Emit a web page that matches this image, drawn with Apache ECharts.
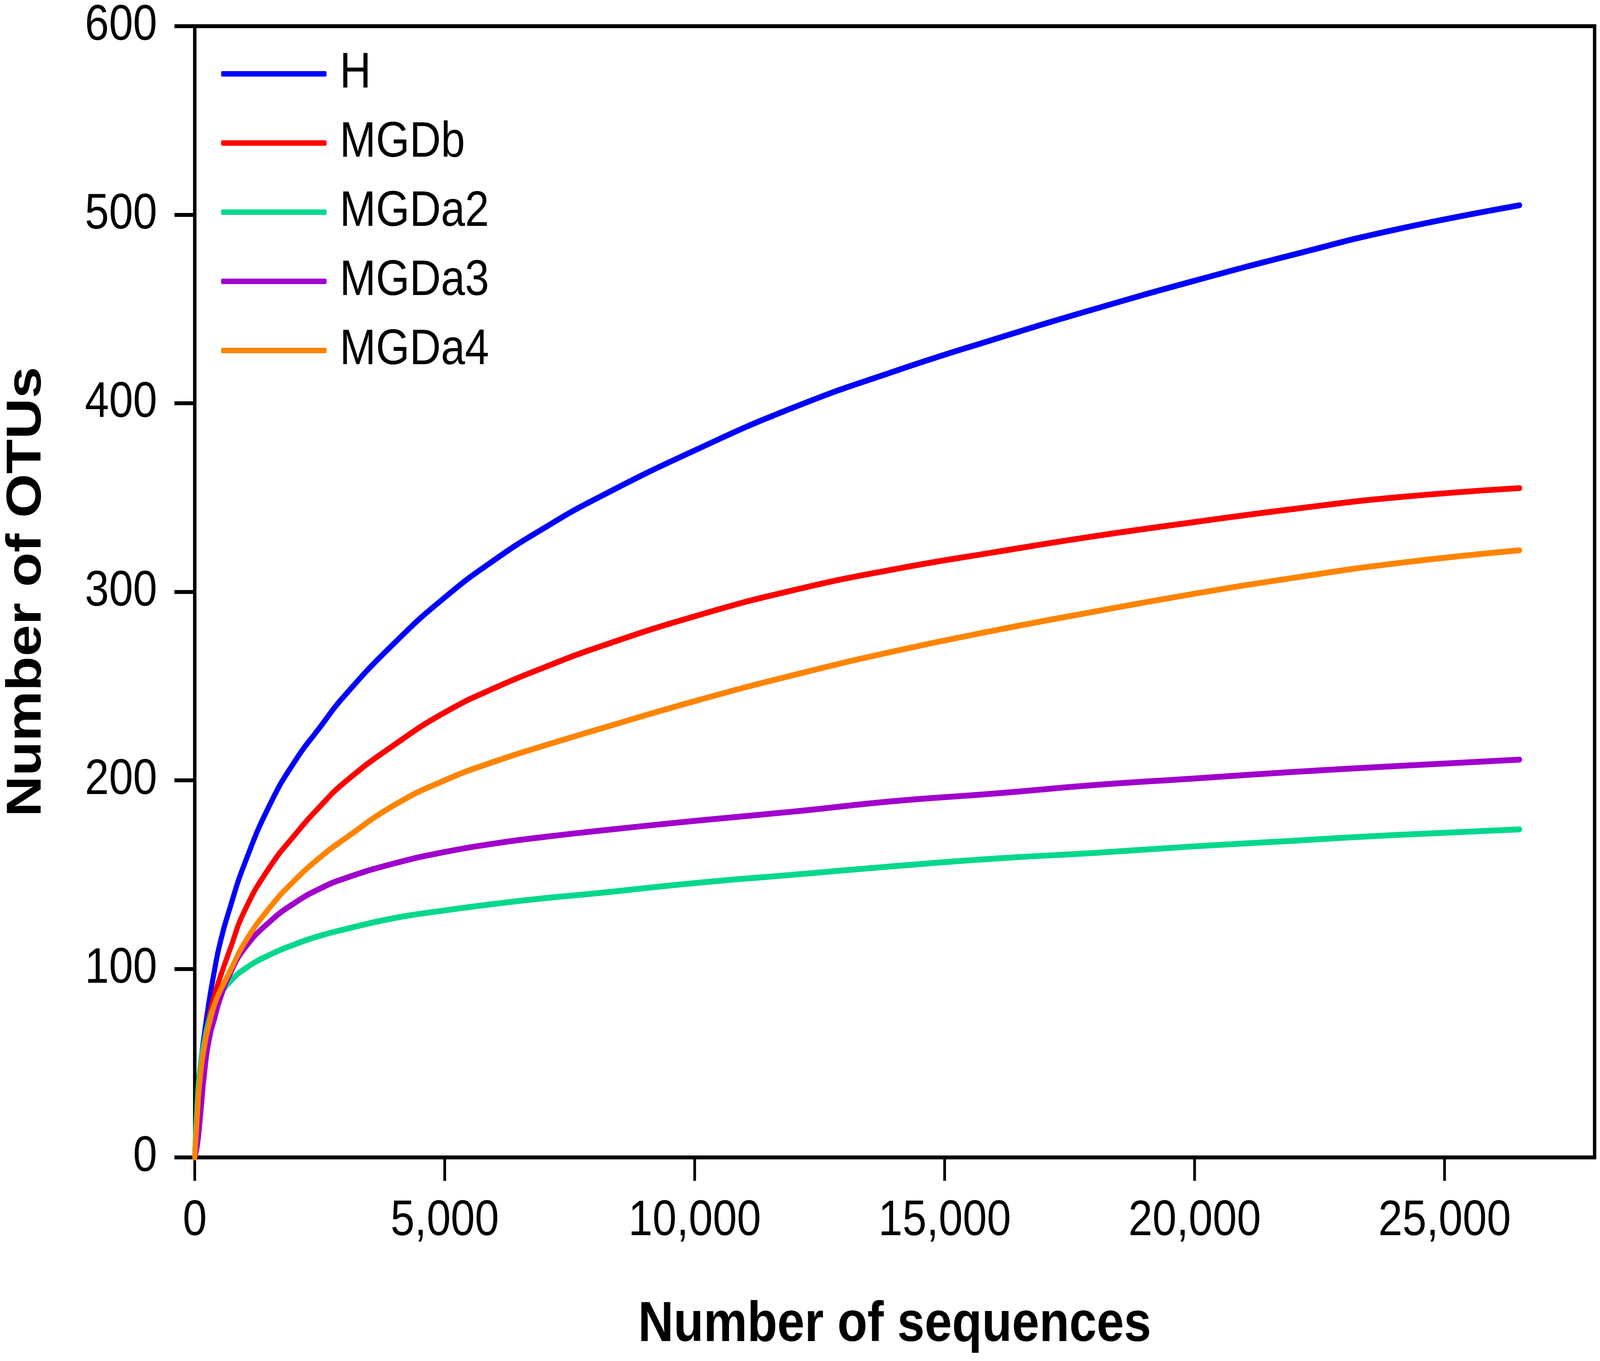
<!DOCTYPE html>
<html lang="en">
<head>
    <meta charset="UTF-8">
    <title>Rarefaction curves</title>
    <script src="https://cdn.jsdelivr.net/npm/echarts@6/dist/echarts.min.js"></script>
    <style>
        html, body { margin: 0; padding: 0; background: #fff; overflow: hidden; }
        #chart { width: 4724px; height: 3483px; transform-origin: 0 0; }
    </style>
</head>
<body>
    <div id="chart"></div>
    <script>
        // sampled number of sequences
        var seqX = [0, 50, 100, 200, 300, 400, 500, 700, 1000, 1500, 2000, 2500, 3000, 4000, 5000,
                    6000, 7000, 8000, 10000, 12000, 14000, 16000, 18000, 20000, 22000, 24000, 26500];

        // OTUs per sample
        var otuH     = [0, 27, 45, 67, 85, 100, 113, 132, 156, 187, 210, 228, 245, 273, 297,
                        317, 334, 349, 375, 398, 417, 434, 450, 465, 479, 492, 505];
        var otuMGDb  = [0, 25, 42, 62, 76, 86.5, 95, 110, 131, 154, 171, 186, 199, 219, 236,
                        249, 260, 270, 287, 301, 312, 321, 329.5, 337, 344, 350, 355];
        var otuMGDa2 = [0, 30, 46, 63, 74, 81, 86, 93, 100, 107.5, 113, 117.5, 121, 127, 131,
                        134.5, 137.5, 140, 145.5, 150, 154.5, 158.5, 161.5, 165, 168, 171, 174];
        var otuMGDa3 = [0, 6, 18, 46, 64, 74, 83.5, 97, 111, 125, 135, 142.5, 148, 156, 162,
                        166.5, 170, 173, 178.5, 183.5, 189, 193, 197.5, 201, 204.5, 207.5, 211];
        var otuMGDa4 = [0, 22, 40, 60, 72, 81.5, 88, 98.5, 114, 132.5, 147, 159, 169, 187, 200,
                        210, 218.5, 226.5, 242, 256, 268.5, 279.5, 289.5, 299, 307.5, 315, 322];

        var names  = ['H', 'MGDb', 'MGDa2', 'MGDa3', 'MGDa4'];
        var colors = ['#0000ff', '#ff0000', '#00d88c', '#a000cc', '#ff8400'];
        var xTicks = [0, 5000, 10000, 15000, 20000, 25000];

        var font = "'Liberation Sans', Arial, sans-serif";

        // the window may be narrower than the figure: squeeze it to fit
        var box = document.getElementById('chart');
        if (window.innerWidth && window.innerWidth < 4724) {
            box.style.transform = 'scale(' + (window.innerWidth / 4724) + ', 1)';
        }

        function pairs(ys) {
            return seqX.map(function (x, i) { return [x, ys[i]]; });
        }

        var allY = [otuH, otuMGDb, otuMGDa2, otuMGDa3, otuMGDa4];
        var series = names.map(function (n, i) {
            return {
                name: n,
                type: 'line',
                data: pairs(allY[i]),
                showSymbol: false,
                symbol: 'none',
                smooth: 0.5,
                color: colors[i],
                lineStyle: { width: 15, color: colors[i], cap: 'round', join: 'round' }
            };
        });

        var chart = echarts.init(box);
        chart.setOption({
            animation: false,
            backgroundColor: '#fff',
            textStyle: { fontFamily: font, color: '#000' },
            grid: {
                left: 555, right: 16, top: 67, bottom: 521,
                show: true, borderColor: '#000', borderWidth: 10
            },
            legend: {
                data: names,
                orient: 'vertical',
                left: 653,
                top: 125,
                padding: 0,
                icon: 'roundRect',
                itemWidth: 311,
                itemHeight: 14,
                itemGap: 49,
                textStyle: { fontSize: 128, color: '#000', fontFamily: font, padding: [0, 0, 0, 34] }
            },
            xAxis: {
                type: 'value',
                min: 0,
                max: 28000,
                name: 'Number of sequences',
                nameLocation: 'middle',
                nameGap: 358,
                nameTextStyle: { fontSize: 145, fontWeight: 'bold', color: '#000', fontFamily: font },
                axisLine: { show: true, onZero: false, lineStyle: { color: '#000', width: 10 } },
                axisTick: { show: true, customValues: xTicks, length: 60, lineStyle: { color: '#000', width: 8 } },
                axisLabel: {
                    customValues: xTicks,
                    fontSize: 128, color: '#000', margin: 100, fontFamily: font,
                    formatter: function (v) { return v.toLocaleString('en-US'); }
                },
                splitLine: { show: false }
            },
            yAxis: {
                type: 'value',
                min: 0,
                max: 600,
                interval: 100,
                name: 'Number of OTUs',
                nameLocation: 'middle',
                nameGap: 422,
                nameTextStyle: { fontSize: 145, fontWeight: 'bold', color: '#000', fontFamily: font },
                axisLine: { show: true, lineStyle: { color: '#000', width: 10 } },
                axisTick: { show: true, length: 60, lineStyle: { color: '#000', width: 10 } },
                axisLabel: { fontSize: 128, color: '#000', margin: 111, fontFamily: font },
                splitLine: { show: false }
            },
            series: series
        });
    </script>
</body>
</html>
